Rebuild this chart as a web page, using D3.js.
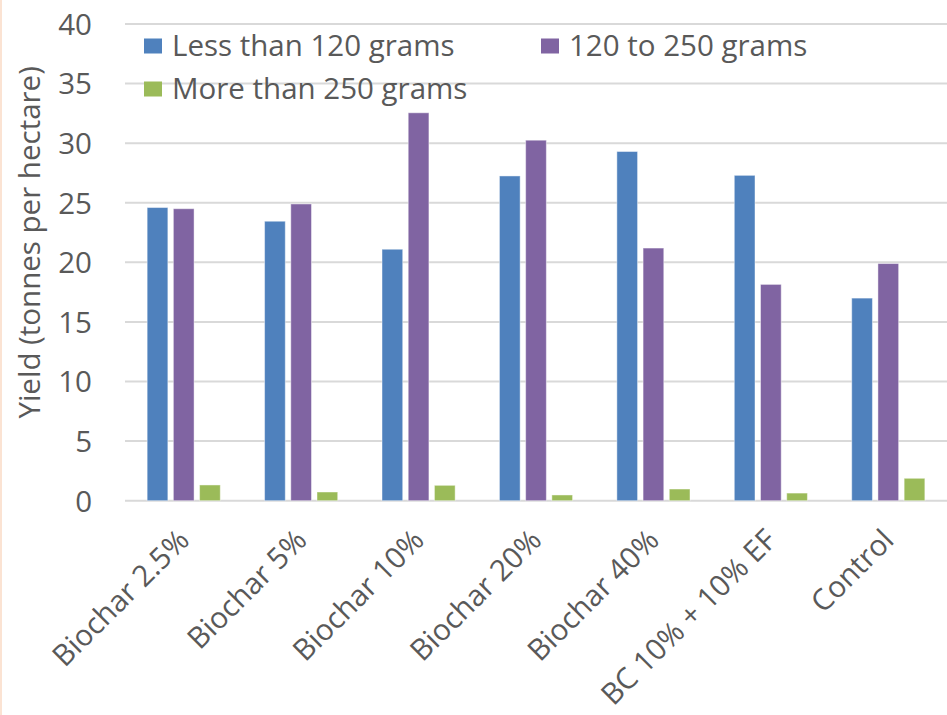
<!DOCTYPE html>
<html>
<head>
<meta charset="utf-8">
<script src="https://cdn.jsdelivr.net/npm/d3@7"></script>
<style>
  html, body { margin: 0; padding: 0; background: #fff; }
  svg { display: block; }
  text { font-family: "Open Sans", sans-serif; fill: #595959; }
</style>
</head>
<body>
<svg id="chart" width="947" height="715"></svg>
<script>
// Yield by fruit-size class for each substrate treatment
const categories = ["Biochar 2.5%", "Biochar 5%", "Biochar 10%", "Biochar 20%", "Biochar 40%", "BC 10% + 10% EF", "Control"];
const seriesNames = ["Less than 120 grams", "120 to 250 grams", "More than 250 grams"];
const lessThan120 = [24.6, 23.45, 21.1, 27.25, 29.3, 27.3, 17.0];
const from120to250 = [24.5, 24.9, 32.55, 30.25, 21.2, 18.15, 19.9];
const moreThan250 = [1.32, 0.73, 1.29, 0.48, 0.98, 0.64, 1.88];
const seriesColors = ["#4f81bd", "#8064a2", "#9bbb59"];
const yTicks = [0, 5, 10, 15, 20, 25, 30, 35, 40];
const yLabel = "Yield (tonnes per hectare)";

const FONT = "'Open Sans', sans-serif";
const FS = "29.5px";

const seriesValues = [lessThan120, from120to250, moreThan250];
const rows = categories.map((c, i) => ({
  category: c,
  values: seriesNames.map((s, k) => ({ series: s, value: seriesValues[k][i], color: seriesColors[k] }))
}));

const svg = d3.select("#chart");
const W = 947, H = 715;
const plot = { left: 125, right: 947, top: 24, bottom: 500.7 };

// frame edge on the left
svg.append("rect").attr("x", 0).attr("y", 0).attr("width", 2).attr("height", H).attr("fill", "#fbe3d3");

const x0 = d3.scaleBand().domain(categories).range([plot.left, plot.right]).paddingInner(0).paddingOuter(0);
const x1 = d3.scaleBand().domain(seriesNames).range([0, x0.bandwidth()]).paddingInner(0.21).paddingOuter(0.845);
const y = d3.scaleLinear().domain([0, 40]).range([plot.bottom, plot.top]);

// horizontal gridlines
svg.append("g").selectAll("line").data(yTicks).join("line")
  .attr("x1", plot.left).attr("x2", plot.right)
  .attr("y1", d => y(d)).attr("y2", d => y(d))
  .attr("stroke", "#d9d9d9").attr("stroke-width", 2);

// y axis tick labels
const yAxis = d3.axisLeft(y).tickValues(yTicks).tickSize(0).tickPadding(0);
const gy = svg.append("g").attr("transform", `translate(92,0)`).call(yAxis);
gy.select(".domain").remove();
gy.selectAll("text").style("font-family", FONT).style("font-size", FS).attr("fill", "#595959").attr("dy", "0.35em");

// y axis title
svg.append("text")
  .attr("transform", `translate(30,${(plot.top + plot.bottom) / 2 - 20}) rotate(-90)`)
  .attr("text-anchor", "middle").attr("dy", "0.35em")
  .style("font-size", FS).text(yLabel);

// bars
const groups = svg.append("g").selectAll("g").data(rows).join("g")
  .attr("transform", d => `translate(${x0(d.category)},0)`);
groups.selectAll("rect").data(d => d.values).join("rect")
  .attr("x", d => x1(d.series))
  .attr("width", x1.bandwidth())
  .attr("y", d => y(d.value))
  .attr("height", d => y(0) - y(d.value))
  .attr("fill", d => d.color)
  .attr("stroke", "#ffffff").attr("stroke-opacity", 0.45).attr("stroke-width", 1);

// x axis category labels, rotated
const xAxis = d3.axisBottom(x0).tickSize(0).tickPadding(0);
const gx = svg.append("g").attr("transform", `translate(0,${plot.bottom})`).call(xAxis);
gx.select(".domain").remove();
gx.selectAll("text")
  .style("font-family", FONT).style("font-size", FS).attr("fill", "#595959")
  .attr("text-anchor", "end")
  .attr("dy", "0.35em")
  .attr("transform", "translate(0,34) rotate(-45)")
  .attr("x", 0).attr("y", 0);

// legend
const legendPos = [[144, 46], [541, 46], [144, 89]];
const legend = svg.append("g").selectAll("g").data(seriesNames).join("g")
  .attr("transform", (d, i) => `translate(${legendPos[i][0]},${legendPos[i][1]})`);
legend.append("rect").attr("x", 0).attr("y", -7.5).attr("width", 18).attr("height", 15)
  .attr("fill", (d, i) => seriesColors[i]);
legend.append("text").attr("x", 28).attr("y", 0).attr("dy", "0.35em")
  .style("font-size", FS).text(d => d);
</script>
</body>
</html>
